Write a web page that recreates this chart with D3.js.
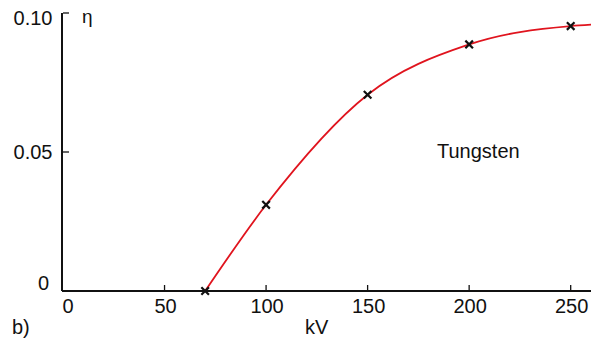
<!DOCTYPE html>
<html><head><meta charset="utf-8">
<script src="https://cdn.jsdelivr.net/npm/d3@7"></script>
<style>html,body{margin:0;padding:0;background:#fff;}svg{display:block;font-family:"Liberation Sans",Arial,sans-serif;}</style>
</head><body>
<script>
const pointsKV = [70, 100, 150, 200, 250];
const pointsEta = [0, 0.031, 0.0706, 0.0887, 0.0953];
const curveKV = [70, 100, 150, 200, 250, 260];
const curveEta = [0, 0.031, 0.0706, 0.0887, 0.0953, 0.0958];
const xTicks = [0, 50, 100, 150, 200, 250];
const yTicks = [0, 0.05, 0.10];
const yTickLabels = ["0", "0.05", "0.10"];

const W = 591, H = 342;
const svg = d3.select("body").append("svg").attr("width", W).attr("height", H);
const x = d3.scaleLinear().domain([0, 260]).range([63, 591]);
const y = d3.scaleLinear().domain([0, 0.10]).range([291, 13]);
const black = "#111";

// x axis ticks (inward)
svg.selectAll(".xt").data(xTicks.filter(d => d > 0)).enter().append("line")
  .attr("x1", d => x(d)).attr("x2", d => x(d)).attr("y1", y(0)).attr("y2", y(0) - 6)
  .attr("stroke", black).attr("stroke-width", 1.3);
svg.selectAll(".xl").data(xTicks).enter().append("text")
  .attr("x", d => x(d) + (d === 0 ? 5 : 1)).attr("y", 313)
  .attr("text-anchor", "middle").attr("font-size", 20).attr("fill", black).text(d => d);

// y axis ticks (inward)
svg.selectAll(".yt").data(yTicks.filter(d => d > 0)).enter().append("line")
  .attr("x1", x(0)).attr("x2", x(0) + 6).attr("y1", d => y(d)).attr("y2", d => y(d))
  .attr("stroke", black).attr("stroke-width", 1.3);
const yOff = {0: -1, 0.05: 7, 0.1: 12};
const yX = {0: 49, 0.05: 52.5, 0.1: 52.5};
svg.selectAll(".yl").data(yTicks).enter().append("text")
  .attr("x", d => yX[d]).attr("y", d => y(d) + yOff[d])
  .attr("text-anchor", "end").attr("font-size", 20).attr("fill", black)
  .text((d, i) => yTickLabels[i]);

// axes lines
svg.append("line").attr("x1", x(0) - 1).attr("x2", x(260)).attr("y1", y(0)).attr("y2", y(0))
  .attr("stroke", black).attr("stroke-width", 2);
svg.append("line").attr("x1", x(0) - 1).attr("x2", x(0) - 1).attr("y1", y(0.1)).attr("y2", y(0))
  .attr("stroke", black).attr("stroke-width", 2);

// curve
const line = d3.line().x(d => x(d[0])).y(d => y(d[1])).curve(d3.curveMonotoneX);
svg.append("path").datum(curveKV.map((k, i) => [k, curveEta[i]]))
  .attr("d", line).attr("fill", "none").attr("stroke", "#e0141e").attr("stroke-width", 1.8);

// markers
const s = 3.8;
const mk = svg.selectAll(".mk").data(pointsKV.map((k, i) => [k, pointsEta[i]])).enter().append("g")
  .attr("transform", d => `translate(${x(d[0])},${y(d[1])})`);
mk.append("path").attr("d", `M${-s},${-s}L${s},${s}M${-s},${s}L${s},${-s}`)
  .attr("stroke", black).attr("stroke-width", 2.2).attr("fill", "none");

// labels
svg.append("text").attr("x", 82).attr("y", 23).attr("font-size", 19).attr("fill", black).text("η");
svg.append("text").attr("x", 437).attr("y", 157.5).attr("font-size", 20).attr("fill", black).text("Tungsten");
svg.append("text").attr("x", 305).attr("y", 334).attr("font-size", 20).attr("fill", black).text("kV");
svg.append("text").attr("x", 12).attr("y", 334).attr("font-size", 20).attr("fill", black).text("b)");
</script>
</body></html>
